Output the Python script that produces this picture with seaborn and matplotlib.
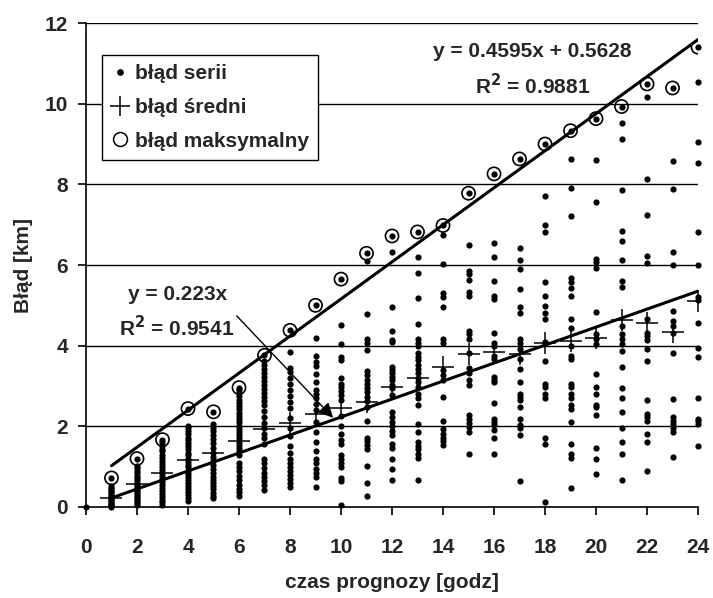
import numpy as np
import pandas as pd
import matplotlib
matplotlib.use("Agg")
import matplotlib.pyplot as plt
from matplotlib.lines import Line2D
import seaborn as sns

# Individual series errors [km] for each forecast hour
h00 = [0.0]
h01 = [0.0, 0.02, 0.05, 0.08, 0.11, 0.14, 0.17, 0.2, 0.24, 0.28, 0.32, 0.36, 0.4, 0.44, 0.48, 0.53, 0.72]
h02 = [0.05, 0.1, 0.15, 0.2, 0.25, 0.3, 0.35, 0.4, 0.45, 0.5, 0.55, 0.6, 0.66, 0.72, 0.78, 0.84, 0.9, 0.96, 1.02, 1.2]
h03 = [0.05, 0.12, 0.18, 0.25, 0.32, 0.4, 0.47, 0.55, 0.62, 0.7, 0.78, 0.85, 0.92, 1.0, 1.07, 1.15, 1.22,
       1.3, 1.38, 1.45, 1.52, 1.6, 1.67]
h04 = [0.15, 0.22, 0.3, 0.38, 0.45, 0.52, 0.6, 0.68, 0.75, 0.82, 0.9, 0.98, 1.05, 1.12, 1.2, 1.28, 1.35,
       1.43, 1.5, 1.58, 1.65, 1.72, 1.8, 1.88, 1.95, 2.02, 2.44]
h05 = [0.23, 0.28, 0.34, 0.44, 0.52, 0.6, 0.68, 0.75, 0.85, 0.95, 1.05, 1.15, 1.25, 1.35, 1.46, 1.58,
       1.68, 1.78, 1.88, 1.97, 2.05, 2.36]
h06 = [0.28, 0.36, 0.45, 0.55, 0.68, 0.78, 0.88, 0.98, 1.1, 1.3, 1.38, 1.46, 1.54, 1.62, 1.7, 1.78, 1.86,
       1.94, 2.02, 2.1, 2.18, 2.26, 2.34, 2.42, 2.5, 2.58, 2.66, 2.74, 2.82, 2.9, 2.96]
h07 = [0.42, 0.55, 0.65, 0.75, 0.85, 0.96, 1.08, 1.2, 1.56, 1.7, 1.82, 1.95, 2.08, 2.22, 2.38, 2.52, 2.62,
       2.72, 2.82, 2.92, 3.02, 3.12, 3.22, 3.32, 3.42, 3.52, 3.62, 3.76]
h08 = [0.5, 0.6, 0.7, 0.8, 0.9, 1.0, 1.1, 1.2, 1.35, 1.5, 1.75, 1.95, 2.2, 2.45, 2.6, 2.75, 2.9, 3.05,
       3.2, 3.35, 3.45, 3.85, 4.38]
h09 = [0.5, 0.75, 0.85, 0.95, 1.1, 1.2, 1.4, 1.6, 1.85, 2.1, 2.4, 2.55, 2.7, 2.8, 2.9, 3.1, 3.3, 3.5,
       3.6, 3.75, 4.2, 5.0]
h10 = [0.05, 0.65, 0.72, 1.0, 1.1, 1.2, 1.3, 1.55, 1.65, 1.8, 2.0, 2.25, 2.65, 2.78, 2.88, 2.97, 3.05,
       3.2, 3.65, 3.72, 4.05, 4.5, 5.65]
h11 = [0.26, 0.59, 1.01, 1.43, 1.54, 1.64, 1.72, 2.14, 2.48, 2.63, 2.73, 2.85, 2.96, 3.06, 3.16, 3.27,
       3.36, 3.9, 4.07, 4.17, 4.78, 6.09, 6.29]
h12 = [0.68, 0.93, 1.18, 1.47, 1.56, 1.79, 1.89, 2.0, 2.1, 2.23, 2.35, 2.77, 2.94, 3.02, 3.15, 3.23,
       3.31, 3.4, 3.48, 4.08, 4.15, 4.36, 4.97, 6.32, 6.72]
h13 = [0.66, 1.22, 1.31, 1.43, 1.51, 1.6, 1.87, 2.06, 2.54, 2.69, 2.81, 2.98, 3.1, 3.19, 3.31, 3.41,
       3.52, 3.65, 3.73, 3.83, 3.98, 4.07, 4.17, 4.54, 5.19, 5.8, 6.21, 6.82]
h14 = [1.53, 1.64, 1.72, 1.82, 1.93, 2.14, 2.73, 3.16, 3.27, 3.4, 4.07, 4.17, 4.97, 5.2, 5.3, 6.02,
       6.75, 6.98]
h15 = [1.31, 1.85, 1.98, 2.08, 2.18, 2.27, 3.02, 3.15, 3.33, 3.44, 3.83, 4.17, 4.28, 4.36, 5.24, 5.32,
       5.63, 5.78, 5.86, 6.5, 7.78]
h16 = [1.31, 1.72, 1.92, 2.04, 2.1, 2.18, 2.58, 3.1, 3.16, 3.23, 3.67, 3.75, 4.0, 4.07, 4.32, 5.16,
       5.24, 5.61, 6.2, 6.54, 8.26]
h17 = [0.64, 1.79, 1.97, 2.04, 2.18, 2.49, 2.66, 2.73, 2.81, 3.1, 3.41, 3.67, 3.92, 4.07, 4.17, 4.8,
       4.95, 5.4, 5.9, 6.13, 6.42, 8.63]
h18 = [0.13, 1.56, 1.72, 2.69, 2.81, 2.98, 3.06, 3.61, 4.08, 4.67, 4.82, 4.99, 5.24, 5.59, 6.83, 7.0,
       7.7, 9.0]
h19 = [0.47, 1.22, 1.32, 1.57, 2.1, 2.43, 2.54, 2.69, 2.79, 2.98, 3.06, 3.67, 3.75, 3.98, 4.44, 4.65,
       5.22, 5.43, 5.57, 5.69, 7.22, 7.9, 8.63, 9.33]
h20 = [0.82, 1.2, 1.47, 2.28, 2.48, 2.54, 2.81, 2.98, 3.3, 4.03, 4.17, 4.3, 4.83, 5.92, 6.08, 6.15,
       7.55, 8.6, 9.63]
h21 = [0.66, 1.31, 1.62, 1.96, 2.35, 2.71, 2.94, 3.46, 3.87, 4.03, 4.17, 4.28, 4.49, 5.45, 5.6, 6.12,
       6.6, 6.85, 7.86, 9.13, 9.52, 9.93]
h22 = [0.89, 1.6, 1.82, 2.14, 2.23, 2.31, 2.66, 3.63, 3.92, 4.15, 4.25, 4.32, 4.65, 6.06, 6.23, 7.25,
       8.13, 10.16, 10.49]
h23 = [1.24, 1.85, 1.97, 2.06, 2.14, 2.23, 2.67, 3.82, 4.32, 4.49, 4.61, 4.85, 6.0, 6.32, 7.88, 8.57,
       10.39]
h24 = [1.5, 2.06, 2.14, 2.18, 2.7, 3.72, 3.94, 4.55, 5.12, 5.2, 5.99, 6.81, 8.53, 9.04, 10.53, 11.4]

series_by_hour = [h00, h01, h02, h03, h04, h05, h06, h07, h08, h09, h10, h11, h12,
                  h13, h14, h15, h16, h17, h18, h19, h20, h21, h22, h23, h24]

# Mean and maximum error for hours 1..24
hours = list(range(1, 25))
mean_error = [0.23, 0.56, 0.85, 1.16, 1.34, 1.63, 1.94, 2.08, 2.30, 2.45, 2.60, 2.98,
              3.21, 3.47, 3.80, 3.85, 3.80, 4.07, 4.12, 4.18, 4.63, 4.55, 4.34, 5.10]
max_error = [0.72, 1.20, 1.67, 2.44, 2.36, 2.96, 3.76, 4.38, 5.00, 5.65, 6.29, 6.72,
             6.82, 6.98, 7.78, 8.26, 8.63, 9.00, 9.33, 9.63, 9.93, 10.49, 10.39, 11.40]

# Trend line coefficients
max_slope, max_intercept, max_r2 = 0.4595, 0.5628, 0.9881
mean_slope, mean_r2 = 0.223, 0.9541

x_ticks = list(range(0, 25, 2))
y_ticks = list(range(0, 13, 2))

sns.set_theme(style="white")
plt.rcParams["font.family"] = ["Liberation Sans", "DejaVu Sans"]
plt.rcParams["font.weight"] = "bold"

points = pd.DataFrame(
    [(h, v) for h, vals in enumerate(series_by_hour) for v in vals],
    columns=["godz", "blad"],
)
summary = pd.DataFrame({"godz": hours, "sredni": mean_error, "maks": max_error})

fig = plt.figure(figsize=(7.13, 5.98), dpi=100)
ax = fig.add_axes([0.1206, 0.1522, 0.8584, 0.8093])

for yv in y_ticks[1:]:
    ax.axhline(yv, color="black", lw=1.0, zorder=1)

sns.scatterplot(data=points, x="godz", y="blad", ax=ax, color="black", s=20,
                linewidth=0, marker="o", zorder=3, clip_on=False, legend=False)
sns.scatterplot(data=summary, x="godz", y="sredni", ax=ax, color="black", s=260,
                marker="+", linewidth=1.1, zorder=4, legend=False)
sns.scatterplot(data=summary, x="godz", y="maks", ax=ax, s=90, marker="o",
                facecolor="none", edgecolor="black", linewidth=1.2, zorder=4, legend=False)

trend_x = np.array([1, 24])
trend = pd.DataFrame({
    "x": trend_x,
    "maks": max_slope * trend_x + max_intercept,
    "sredni": mean_slope * trend_x,
})
sns.lineplot(data=trend, x="x", y="maks", ax=ax, color="black", lw=2.2, zorder=5)
sns.lineplot(data=trend, x="x", y="sredni", ax=ax, color="black", lw=2.2, zorder=5)

ax.text(17.5, 11.3, f"y = {max_slope}x + {max_intercept}", ha="center", va="center",
        fontsize=15, fontweight="bold")
ax.text(17.5, 10.45, f"R$^{{\\mathbf{{2}}}}$ = {max_r2}", ha="center", va="center",
        fontsize=15, fontweight="bold")
ax.text(3.6, 5.26, f"y = {mean_slope}x", ha="center", va="center",
        fontsize=15, fontweight="bold")
ax.text(3.55, 4.44, f"R$^{{\\mathbf{{2}}}}$ = {mean_r2}", ha="center", va="center",
        fontsize=15, fontweight="bold")
ax.annotate("", xy=(9.69, 2.21), xytext=(5.91, 4.74),
            arrowprops=dict(arrowstyle="-|>", color="black", lw=1.0,
                            mutation_scale=22, shrinkA=0, shrinkB=0), zorder=6)

ax.set_xlim(0, 24)
ax.set_ylim(0, 12)
ax.set_xticks(x_ticks)
ax.set_yticks(y_ticks)
ax.tick_params(axis="both", direction="out", length=6, width=1.2, color="black",
               labelsize=15, bottom=True, left=True)
ax.tick_params(axis="x", pad=16)
ax.tick_params(axis="y", pad=7)
for lab in ax.get_xticklabels() + ax.get_yticklabels():
    lab.set_fontweight("bold")

ax.set_xlabel("czas prognozy [godz]", fontsize=15, fontweight="bold", labelpad=12)
ax.set_ylabel("Błąd [km]", fontsize=15, fontweight="bold", labelpad=8)

for side in ["top", "right"]:
    ax.spines[side].set_visible(False)
for side in ["left", "bottom"]:
    ax.spines[side].set_color("black")
    ax.spines[side].set_linewidth(1.2)

handles = [
    Line2D([], [], ls="none", marker="o", color="black", markersize=3.8),
    Line2D([], [], ls="none", marker="+", color="black", markersize=14, markeredgewidth=1.1),
    Line2D([], [], ls="none", marker="o", markerfacecolor="none", markeredgecolor="black",
           markersize=10, markeredgewidth=1.1),
]
leg = ax.legend(handles, ["błąd serii", "błąd średni", "błąd maksymalny"],
                loc="upper left", bbox_to_anchor=(0.0257, 0.934), borderaxespad=0,
                frameon=True, fancybox=False, edgecolor="black", framealpha=1,
                handlelength=0.9, handletextpad=0.25, labelspacing=0.7,
                borderpad=0.45, prop={"size": 15, "weight": "bold"})
leg.get_frame().set_linewidth(1.0)
leg.set_zorder(10)

fig.savefig("out.png", dpi=100, facecolor="white")
